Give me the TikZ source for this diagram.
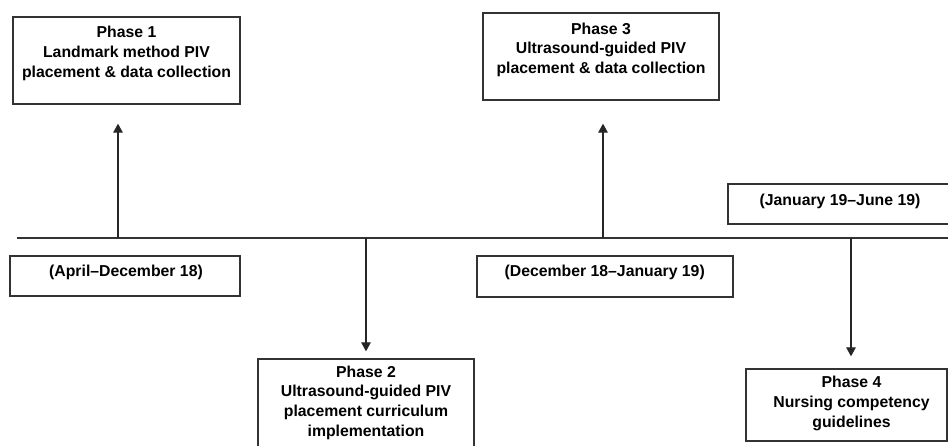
\documentclass[tikz,border=0pt]{standalone}
\usepackage{fontspec}
\setmainfont{Liberation Sans}
\usetikzlibrary{arrows.meta}
\begin{document}
\begin{tikzpicture}[x=1pt, y=-1pt,
	box/.style={draw=black!80, line width=1.3pt, inner sep=0pt},
	boxtext/.style={align=center, inner sep=0pt, font=\bfseries\fontsize{15.8}{19.7}\selectfont},
	arr/.style={draw=black!85, line width=1.1pt, -{Triangle[width=9.5pt,length=9pt]}}]
	\useasboundingbox (0,0) rectangle (948,446);
	\coordinate (tl) at (17,238);
	\coordinate (tr) at (952,238);
	\draw[black!80, line width=1.5pt] (tl) -- (tr);
	\coordinate (t1) at (118,238);
	\coordinate (t2) at (366,238);
	\coordinate (t3) at (603,238);
	\coordinate (t4) at (851,238);
	\node[box, minimum width=227pt, minimum height=87pt] (p1) at (126.5,60.5) {};
	\node[boxtext] (p1txt) at (126.5,53.5) {Phase 1\\Landmark method PIV\\placement \& data collection};
	\node[box, minimum width=216pt, minimum height=93pt] (p2) at (366,405.5) {};
	\node[boxtext] (p2txt) at (366,402.6) {Phase 2\\Ultrasound-guided PIV\\placement curriculum\\implementation};
	\node[box, minimum width=236pt, minimum height=87pt] (p3) at (601,56.5) {};
	\node[boxtext] (p3txt) at (601,49.8) {Phase 3\\Ultrasound-guided PIV\\placement \& data collection};
	\node[box, minimum width=201pt, minimum height=72pt] (p4) at (846.5,405) {};
	\node[boxtext] (p4txt) at (851.5,403.5) {Phase 4\\Nursing competency\\guidelines};
	\node[box, minimum width=230pt, minimum height=40pt] (d1) at (125,276) {};
	\node[boxtext] (d1txt) at (126,272) {(April–December 18)};
	\node[box, minimum width=256pt, minimum height=41pt] (d2) at (605,276.5) {};
	\node[boxtext] (d2txt) at (604.7,272.3) {(December 18–January 19)};
	\node[box, minimum width=224pt, minimum height=40pt] (d3) at (840,204) {};
	\node[boxtext] (d3txt) at (840,201) {(January 19–June 19)};
	\draw[arr, shorten >=19pt] (t1) -- (t1 |- p1.south);
	\draw[arr, shorten >=7pt] (t2) -- (t2 |- p2.north);
	\draw[arr, shorten >=23pt] (t3) -- (t3 |- p3.south);
	\draw[arr, shorten >=12pt] (t4) -- (t4 |- p4.north);
\end{tikzpicture}
\end{document}
